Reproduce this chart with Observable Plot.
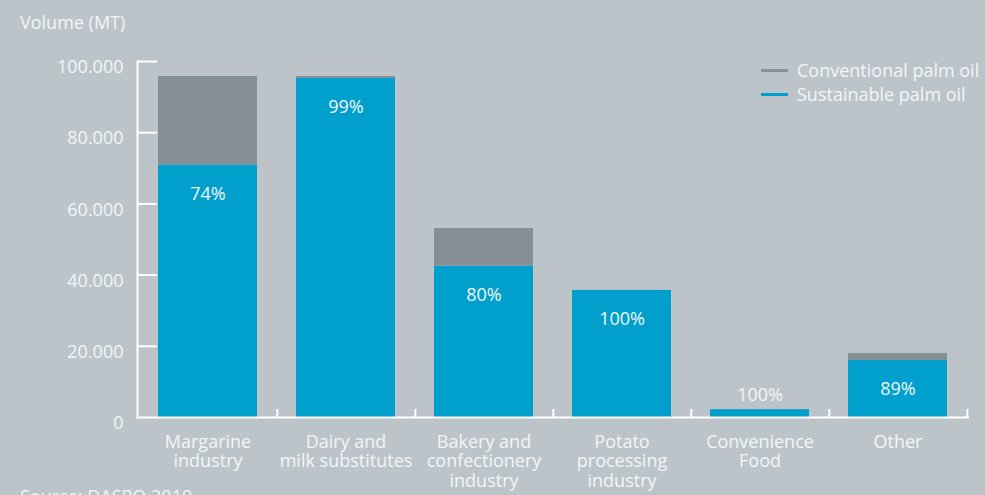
<!DOCTYPE html>
<html>
<head>
<meta charset="utf-8">
<script src="https://cdn.jsdelivr.net/npm/d3@7"></script>
<script src="https://cdn.jsdelivr.net/npm/@observablehq/plot@0.6"></script>
<style>
  html, body { margin: 0; padding: 0; background: #bdc4c9; overflow: hidden; }
  #wrap { position: relative; width: 985px; height: 495px; overflow: hidden; background: #bdc4c9;
          font-family: "Open Sans", sans-serif; color: #f2f5f7; }
  #title { height: 40px; line-height: 40px; padding-left: 20px; font-size: 18px; box-sizing: border-box; padding-top: 2px; }
  #legend { position: absolute; left: 761px; top: 58px; font-size: 18px; }
  .item { display: flex; align-items: center; height: 24px; }
  .sw { width: 27px; height: 3px; margin-right: 9px; }
  #source { position: absolute; left: 20px; top: 484px; font-size: 18px; }
  svg { display: block; }
</style>
</head>
<body>
<div id="wrap">
  <div id="title">Volume (MT)</div>
  <div id="legend"></div>
  <div id="chart"></div>
  <div id="source">Source: DASPO 2019</div>
</div>
<script>
// ---- data ----
const categories = ["Margarine\nindustry", "Dairy and\nmilk substitutes", "Bakery and\nconfectionery\nindustry", "Potato\nprocessing\nindustry", "Convenience\nFood", "Other"];
const sustainable = [70900, 95300, 42500, 35700, 2200, 16000];
const conventional = [24900, 500, 10600, 0, 0, 2000];
const shares = ["74%", "99%", "80%", "100%", "100%", "89%"];
const yTicks = [0, 20000, 40000, 60000, 80000, 100000];
const seriesNames = ["Conventional palm oil", "Sustainable palm oil"];

// ---- styles ----
const BLUE = "#009fcc", GRAY = "#848f96", TXT = "#f2f5f7", LINE = "#ffffff";
const FONT = 18;

const rows = categories.map((c, i) => ({
  cat: c, s: sustainable[i], c: conventional[i], total: sustainable[i] + conventional[i], share: shares[i]
}));

const W = 985, H = 455, ML = 137, MR = 16, MT = 21, MB = 78;
const step = (W - ML - MR) / categories.length;
const loc = d3.formatLocale({decimal: ",", thousands: ".", grouping: [3], currency: ["", ""]});
const fmt = loc.format(",d");

const plot = Plot.plot({
  width: W, height: H,
  marginLeft: ML, marginRight: MR, marginTop: MT, marginBottom: MB,
  style: {background: "transparent", fontFamily: "'Open Sans', sans-serif", fontSize: FONT + "px", color: TXT},
  x: {domain: categories, paddingInner: 0.28, paddingOuter: 0.14},
  y: {domain: [0, 100000]},
  marks: [
    Plot.barY(rows, {x: "cat", y1: 0, y2: "s", fill: BLUE}),
    Plot.barY(rows.filter(d => d.c > 0), {x: "cat", y1: "s", y2: "total", fill: GRAY}),
    Plot.text(rows.filter(d => d.s >= 10000), {x: "cat", y: "s", text: "share", dy: 29, fill: TXT, fontSize: FONT}),
    Plot.text(rows.filter(d => d.s < 10000), {x: "cat", y: "total", text: "share", dy: -14, fill: TXT, fontSize: FONT}),
    Plot.ruleY([0], {stroke: LINE, strokeWidth: 2}),
    Plot.frame({anchor: "left", stroke: LINE, strokeWidth: 2}),
    Plot.axisY({ticks: yTicks, tickSize: 0, tickPadding: 14, dy: 6, tickFormat: fmt, label: null, fill: TXT, fontSize: FONT}),
    Plot.axisY({ticks: yTicks.filter(d => d > 0), tickSize: 20, dx: 20, tickFormat: () => "", label: null, stroke: LINE, strokeWidth: 2}),
    Plot.axisX({tickSize: 8, dy: -8, dx: step / 2, tickFormat: () => "", label: null, stroke: LINE, strokeWidth: 2}),
    Plot.axisX({tickSize: 0, tickPadding: 16, label: null, fill: TXT, fontSize: FONT, lineHeight: 1.1})
  ]
});
document.getElementById("chart").appendChild(plot);

const legend = document.getElementById("legend");
[GRAY, BLUE].forEach((col, i) => {
  const it = document.createElement("div");
  it.className = "item";
  it.innerHTML = `<span class="sw" style="background:${col}"></span><span>${seriesNames[i]}</span>`;
  legend.appendChild(it);
});
</script>
</body>
</html>
